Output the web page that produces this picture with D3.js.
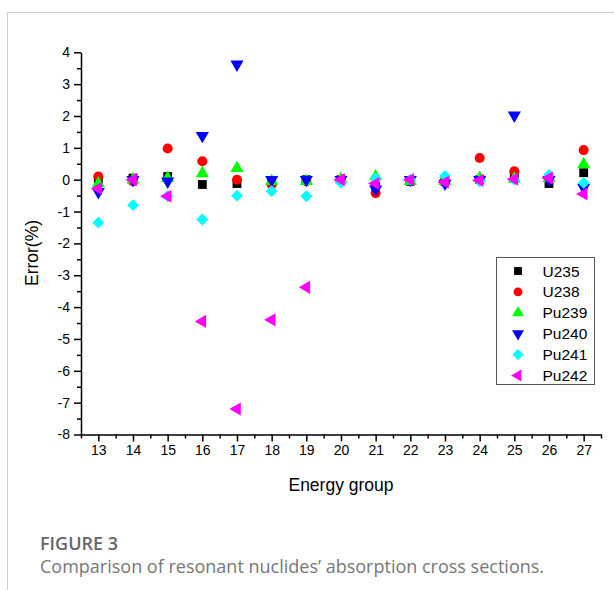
<!DOCTYPE html>
<html>
<head>
<meta charset="utf-8">
<script src="https://cdn.jsdelivr.net/npm/d3@7"></script>
<style>
  html, body { margin: 0; padding: 0; background: #fff; }
  svg { display: block; }
</style>
</head>
<body>
<svg id="chart" width="614" height="590"></svg>
<script>
// ---- data ----
const groups = [13, 14, 15, 16, 17, 18, 19, 20, 21, 22, 23, 24, 25, 26, 27];
const U235  = [-0.05, 0.05, 0.10, -0.15, -0.12, -0.05, 0.00, 0.00, -0.20, -0.05, -0.05, 0.00, 0.05, -0.12, 0.22];
const U238  = [0.10, -0.05, 0.98, 0.58, 0.00, -0.15, -0.05, 0.00, -0.42, -0.03, -0.05, 0.68, 0.26, 0.05, 0.93];
const Pu239 = [-0.12, 0.00, 0.05, 0.20, 0.36, -0.05, -0.05, 0.02, 0.10, -0.05, -0.05, 0.05, 0.03, 0.05, 0.48];
const Pu240 = [-0.38, 0.00, -0.05, 1.38, 3.62, 0.00, 0.00, 0.00, -0.30, 0.00, -0.12, 0.00, 2.02, 0.00, -0.25];
const Pu241 = [-1.35, -0.80, -0.52, -1.25, -0.50, -0.36, -0.52, -0.10, 0.05, 0.00, 0.12, -0.05, 0.00, 0.15, -0.10];
const Pu242 = [-0.28, 0.00, -0.52, -4.45, -7.20, -4.40, -3.38, 0.00, -0.12, 0.00, -0.08, -0.02, 0.02, 0.05, -0.45];
const seriesNames = ["U235", "U238", "Pu239", "Pu240", "Pu241", "Pu242"];
const yTicks = [4, 3, 2, 1, 0, -1, -2, -3, -4, -5, -6, -7, -8];
const xTitle = "Energy group";
const yTitle = "Error(%)";
const captionTitle = "FIGURE 3";
const captionText = "Comparison of resonant nuclides\u2019 absorption cross sections.";

const seriesValues = [U235, U238, Pu239, Pu240, Pu241, Pu242];
const colors = ["#000000", "#ff0000", "#00ff00", "#0000ff", "#00ffff", "#ff00ff"];

// symbol definitions: [d3 symbol type, rotation, size]
const shapes = [
  [d3.symbolSquare, 0, 78],
  [d3.symbolCircle, 0, 80],
  [d3.symbolTriangle, 0, 75],
  [d3.symbolTriangle, 180, 75],
  [d3.symbolSquare, 45, 70],
  [d3.symbolTriangle, -90, 75]
];

const svg = d3.select("#chart");

// page frame lines
svg.append("line").attr("x1", 7).attr("x2", 614).attr("y1", 12.5).attr("y2", 12.5)
  .attr("stroke", "#cfcfcf").attr("stroke-width", 1);
svg.append("line").attr("x1", 7.5).attr("x2", 7.5).attr("y1", 12).attr("y2", 590)
  .attr("stroke", "#cfcfcf").attr("stroke-width", 1);

const x = d3.scaleLinear().domain([12.5, 27.5]).range([81, 601]);
const y = d3.scaleLinear().domain([-8, 4]).range([434.5, 52.3]);

const axisFont = "Liberation Sans, Arial, sans-serif";
const fmt = d => String(d); // plain hyphen minus, as in the reference

// minor ticks
const xMinor = d3.range(12.5, 27.51, 1);
const yMinor = d3.range(-7.5, 4, 1);

const gx = svg.append("g").attr("transform", `translate(0,${y(-8)})`);
gx.call(d3.axisBottom(x).tickValues(groups).tickFormat(fmt).tickSize(7).tickSizeOuter(0).tickPadding(4));
gx.append("g").call(d3.axisBottom(x).tickValues(xMinor).tickSize(4).tickFormat("").tickSizeOuter(0))
  .select(".domain").remove();

const gy = svg.append("g").attr("transform", `translate(${x(12.5)},0)`);
gy.call(d3.axisLeft(y).tickValues(yTicks).tickFormat(fmt).tickSize(7).tickSizeOuter(0).tickPadding(4));
gy.append("g").call(d3.axisLeft(y).tickValues(yMinor).tickSize(4).tickFormat("").tickSizeOuter(0))
  .select(".domain").remove();

svg.selectAll(".domain, .tick line").attr("stroke", "#000").attr("stroke-width", 1.5);
svg.selectAll(".tick text").attr("font-family", axisFont).attr("font-size", 14).attr("fill", "#000");

// axis titles
svg.append("text").attr("x", x(20)).attr("y", 491)
  .attr("text-anchor", "middle").attr("font-family", axisFont).attr("font-size", 17.5)
  .text(xTitle);
svg.append("text").attr("transform", `translate(38,253) rotate(-90)`)
  .attr("text-anchor", "middle").attr("font-family", axisFont).attr("font-size", 17.5)
  .text(yTitle);

// points
seriesValues.forEach((vals, si) => {
  const [type, rot, size] = shapes[si];
  const sym = d3.symbol().type(type).size(size);
  svg.append("g").selectAll("path")
    .data(groups.map((g, i) => ({ g, v: vals[i] })))
    .join("path")
    .attr("d", sym)
    .attr("transform", d => `translate(${x(d.g)},${y(d.v)}) rotate(${rot})`)
    .attr("fill", colors[si]);
});

// legend
const lg = svg.append("g");
lg.append("rect").attr("x", 496.5).attr("y", 257.5).attr("width", 98).attr("height", 127)
  .attr("fill", "#fff").attr("stroke", "#555").attr("stroke-width", 1);
seriesNames.forEach((name, si) => {
  const [type, rot] = shapes[si];
  const cy = 271 + si * 20.9;
  lg.append("path").attr("d", d3.symbol().type(type).size(62))
    .attr("transform", `translate(518,${cy}) rotate(${rot})`).attr("fill", colors[si]);
  lg.append("text").attr("x", 542.5).attr("y", cy + 5.5)
    .attr("font-family", axisFont).attr("font-size", 15.5).text(name);
});

// caption
svg.append("text").attr("x", 40).attr("y", 550)
  .attr("font-family", "Open Sans, sans-serif").attr("font-size", 18).attr("font-weight", 600)
  .attr("fill", "#666").text(captionTitle);
svg.append("text").attr("x", 40).attr("y", 573)
  .attr("font-family", "Open Sans, sans-serif").attr("font-size", 18)
  .attr("fill", "#777").text(captionText);
</script>
</body>
</html>
